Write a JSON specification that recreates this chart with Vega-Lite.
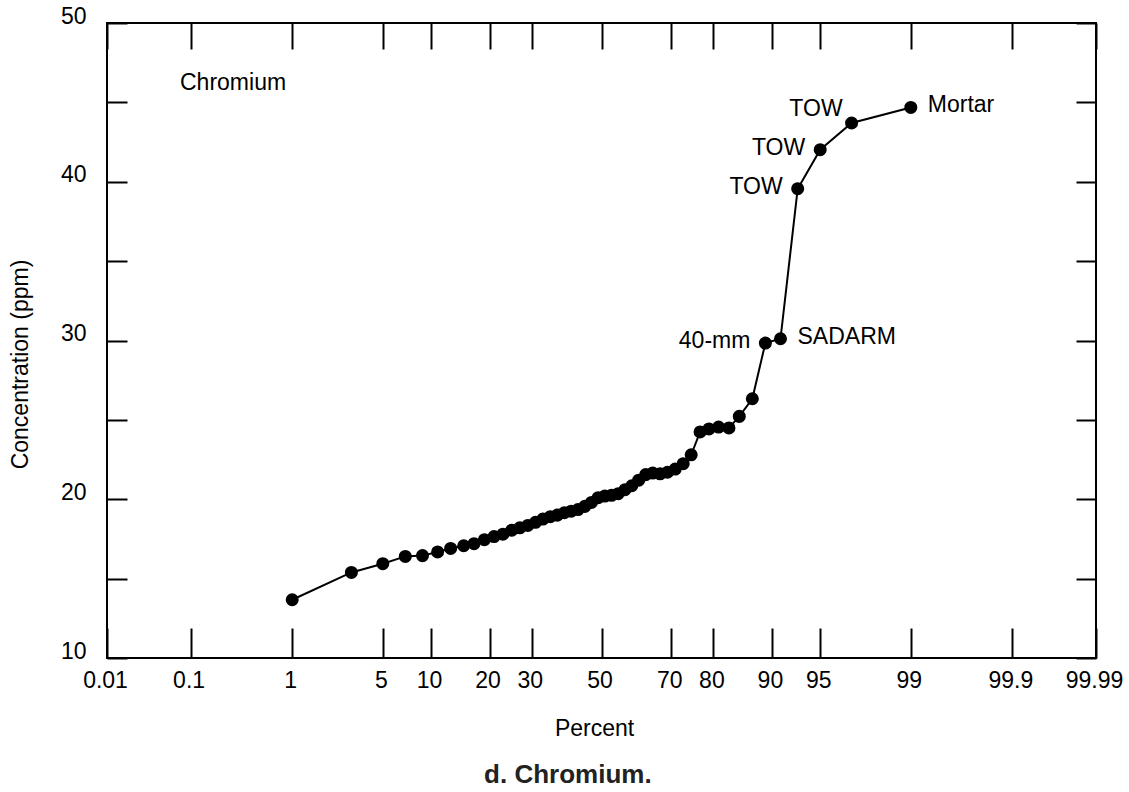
{
  "$schema": "https://vega.github.io/schema/vega-lite/v6.json",
  "autosize": {"type": "none"},
  "width": 989,
  "height": 635,
  "padding": {"left": 107, "top": 23, "right": 33, "bottom": 134},
  "background": "white",
  "title": {"text": "d. Chromium.", "orient": "bottom", "anchor": "middle", "frame": "bounds", "offset": 22, "dx": 2, "font": "Liberation Sans", "fontSize": 26, "fontWeight": "bold", "color": "#222222"},
  "data": {"values": [
    {"percent": 1, "conc": 13.67},
    {"percent": 3, "conc": 15.39},
    {"percent": 5, "conc": 15.94},
    {"percent": 7, "conc": 16.4},
    {"percent": 9, "conc": 16.45},
    {"percent": 11, "conc": 16.68},
    {"percent": 13, "conc": 16.9},
    {"percent": 15, "conc": 17.07},
    {"percent": 17, "conc": 17.2},
    {"percent": 19, "conc": 17.45},
    {"percent": 21, "conc": 17.65},
    {"percent": 23, "conc": 17.8},
    {"percent": 25, "conc": 18.05},
    {"percent": 27, "conc": 18.2},
    {"percent": 29, "conc": 18.35},
    {"percent": 31, "conc": 18.55},
    {"percent": 33, "conc": 18.75},
    {"percent": 35, "conc": 18.9},
    {"percent": 37, "conc": 19.0},
    {"percent": 39, "conc": 19.15},
    {"percent": 41, "conc": 19.25},
    {"percent": 43, "conc": 19.35},
    {"percent": 45, "conc": 19.55},
    {"percent": 47, "conc": 19.8},
    {"percent": 49, "conc": 20.1},
    {"percent": 51, "conc": 20.2},
    {"percent": 53, "conc": 20.25},
    {"percent": 55, "conc": 20.35},
    {"percent": 57, "conc": 20.6},
    {"percent": 59, "conc": 20.85},
    {"percent": 61, "conc": 21.2},
    {"percent": 63, "conc": 21.55},
    {"percent": 65, "conc": 21.65},
    {"percent": 67, "conc": 21.6},
    {"percent": 69, "conc": 21.7},
    {"percent": 71, "conc": 21.9},
    {"percent": 73, "conc": 22.24},
    {"percent": 75, "conc": 22.8},
    {"percent": 77, "conc": 24.24},
    {"percent": 79, "conc": 24.43},
    {"percent": 81, "conc": 24.55},
    {"percent": 83, "conc": 24.49},
    {"percent": 85, "conc": 25.22},
    {"percent": 87, "conc": 26.33},
    {"percent": 89, "conc": 29.84, "label": "40-mm"},
    {"percent": 91, "conc": 30.11, "label": "SADARM"},
    {"percent": 93, "conc": 39.56, "label": "TOW"},
    {"percent": 95, "conc": 42.02, "label": "TOW"},
    {"percent": 97, "conc": 43.7, "label": "TOW"},
    {"percent": 99, "conc": 44.68, "label": "Mortar"}
  ]},
  "resolve": {"axis": {"x": "independent", "y": "independent"}},
  "layer": [
    {
      "mark": {"type": "line", "color": "black", "strokeWidth": 2},
      "encoding": {
        "x": {"field": "percent", "type": "quantitative",
          "scale": {"type": "linear", "zero": false, "nice": false,
            "domain": [0.01, 0.1, 0.5, 1, 2, 3, 5, 7, 10, 15, 20, 25, 30, 35, 40, 45, 50, 55, 60, 65, 70, 75, 80, 85, 90, 93, 95, 97, 98, 99, 99.5, 99.9, 99.99],
            "range": [0, 83.6, 152.0, 185.2, 221.4, 244.4, 275.8, 298.3, 324.1, 356.7, 382.6, 404.8, 424.8, 443.3, 460.8, 477.8, 494.5, 511.2, 528.2, 545.7, 564.2, 584.2, 606.4, 632.3, 664.9, 690.7, 713.2, 744.6, 767.6, 803.8, 837.0, 905.4, 989]},
          "axis": {"orient": "bottom", "values": [0.01, 0.1, 1, 5, 10, 20, 30, 50, 70, 80, 90, 95, 99, 99.9, 99.99],
            "labelExpr": "'' + datum.value", "domain": false, "grid": false,
            "tickSize": -30, "tickWidth": 2, "tickColor": "black",
            "labelPadding": 41, "labelOffset": -2, "labelFlush": false, "labelOverlap": false, "labelBound": false,
            "labelFont": "Liberation Sans", "labelFontSize": 23, "labelColor": "black",
            "title": "Percent", "titleFont": "Liberation Sans", "titleFontSize": 23, "titleFontWeight": "normal", "titleColor": "black",
            "titleBaseline": "alphabetic", "titleX": 487, "titleY": 77}},
        "y": {"field": "conc", "type": "quantitative",
          "scale": {"domain": [10, 50], "zero": false, "nice": false},
          "axis": {"orient": "left", "values": [10, 15, 20, 25, 30, 35, 40, 45, 50],
            "labelExpr": "datum.value % 10 == 0 ? '' + datum.value : ''", "domain": false, "grid": false,
            "tickSize": -20, "tickWidth": 2, "tickColor": "black",
            "labelPadding": 41, "labelOffset": -7, "labelFlush": false, "labelOverlap": false, "labelBound": false,
            "labelFont": "Liberation Sans", "labelFontSize": 23, "labelColor": "black",
            "title": "Concentration (ppm)", "titleFont": "Liberation Sans", "titleFontSize": 23, "titleFontWeight": "normal", "titleColor": "black",
            "titleBaseline": "alphabetic", "titleX": -80, "titleY": 341}}
      }
    },
    {
      "mark": {"type": "circle", "size": 170, "color": "black", "opacity": 1},
      "encoding": {
        "x": {"field": "percent", "type": "quantitative",
          "axis": {"orient": "top", "values": [0.01, 0.1, 1, 5, 10, 20, 30, 50, 70, 80, 90, 95, 99, 99.9, 99.99],
            "labels": false, "domain": false, "grid": false, "title": null,
            "tickSize": -26, "tickWidth": 2, "tickColor": "black"}},
        "y": {"field": "conc", "type": "quantitative",
          "axis": {"orient": "right", "values": [10, 15, 20, 25, 30, 35, 40, 45, 50],
            "labels": false, "domain": false, "grid": false, "title": null,
            "tickSize": -20, "tickWidth": 2, "tickColor": "black"}}
      }
    },
    {
      "transform": [{"filter": "datum.label == 'Mortar' || datum.label == 'SADARM'"}],
      "mark": {"type": "text", "align": "left", "baseline": "middle", "dx": 17, "dy": -2, "font": "Liberation Sans", "fontSize": 23, "color": "black"},
      "encoding": {
        "x": {"field": "percent", "type": "quantitative", "axis": null},
        "y": {"field": "conc", "type": "quantitative", "axis": null},
        "text": {"field": "label"}
      }
    },
    {
      "transform": [{"filter": "(datum.label == 'TOW' && datum.percent < 97) || datum.label == '40-mm'"}],
      "mark": {"type": "text", "align": "right", "baseline": "middle", "dx": -15, "dy": -2, "font": "Liberation Sans", "fontSize": 23, "color": "black"},
      "encoding": {
        "x": {"field": "percent", "type": "quantitative", "axis": null},
        "y": {"field": "conc", "type": "quantitative", "axis": null},
        "text": {"field": "label"}
      }
    },
    {
      "transform": [{"filter": "datum.label == 'TOW' && datum.percent == 97"}],
      "mark": {"type": "text", "align": "right", "baseline": "middle", "dx": -9, "dy": -14, "font": "Liberation Sans", "fontSize": 23, "color": "black"},
      "encoding": {
        "x": {"field": "percent", "type": "quantitative", "axis": null},
        "y": {"field": "conc", "type": "quantitative", "axis": null},
        "text": {"field": "label"}
      }
    },
    {
      "data": {"values": [{"label": "Chromium", "percent": 0.0886, "conc": 45.8}]},
      "mark": {"type": "text", "align": "left", "baseline": "alphabetic", "font": "Liberation Sans", "fontSize": 23, "color": "black"},
      "encoding": {
        "x": {"field": "percent", "type": "quantitative", "axis": null},
        "y": {"field": "conc", "type": "quantitative", "axis": null},
        "text": {"field": "label"}
      }
    }
  ],
  "config": {
    "view": {"stroke": "black", "strokeWidth": 2},
    "axis": {"ticks": true}
  }
}
